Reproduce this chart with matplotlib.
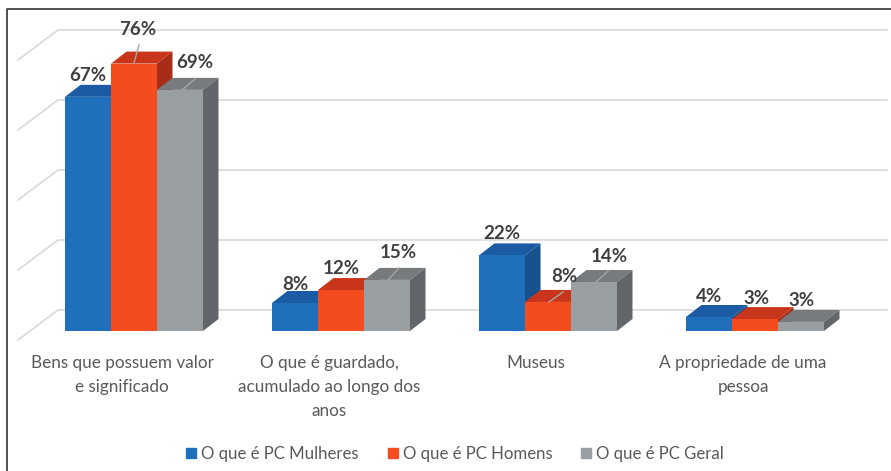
"""Grouped pseudo-3D bar chart: O que e patrimonio cultural, by gender."""

import matplotlib
matplotlib.use("Agg")
import matplotlib.pyplot as plt
from matplotlib.patches import Polygon

WIDTH, HEIGHT = 891, 471

categories = [
    "Bens que possuem valor\ne significado",
    "O que é guardado,\nacumulado ao longo dos\nanos",
    "Museus",
    "A propriedade de uma\npessoa",
]
series_names = ["O que é PC Mulheres", "O que é PC Homens", "O que é PC Geral"]
# heights, they round to the printed labels
mulheres = [66.9, 8.0, 21.6, 4.0]
homens = [76.4, 11.7, 8.3, 3.4]
geral = [68.9, 14.6, 14.0, 2.6]
grid_values = [6, 26, 46, 66, 86]

FRONT = ["#1f6fbb", "#f24c1f", "#989ea1"]
TOP = ["#1a5ba3", "#c9351b", "#777b7e"]
SIDE = ["#17528f", "#a82c18", "#62666a"]
TEXT = "#595959"
LABEL = "#404040"

# pixel centres of the value labels, per series and category
LABEL_POS = [
    [(88, 76), (295, 285), (502, 234), (709, 296)],
    [(138, 30), (341, 269), (564, 276), (756, 298)],
    [(195, 63), (398, 253), (609, 256), (801, 301)],
]
# leader lines from label to bar top, in pixels
LEADERS = [
    ((139, 45), (134, 63)),
    ((195, 79), (182, 90)),
    ((399, 268), (388, 280)),
    ((608, 271), (596, 282)),
    ((563, 292), (549, 302)),
]

# one x unit is one category, one y unit is one percent point
PX_X = 207.0
PX_Y = 3.5
BAR_W = 46.0 / PX_X
DX = 15.5 / PX_X
DY = 12.0 / PX_Y

plt.rcParams["font.family"] = ["Lato", "DejaVu Sans"]
fig = plt.figure(figsize=(WIDTH / 100, HEIGHT / 100), dpi=100)
ax = fig.add_axes([0, 0, 1, 1])
ax.set_xlim(-134 / PX_X, (WIDTH - 134) / PX_X)
ax.set_ylim(-(HEIGHT - 331) / PX_Y, 331 / PX_Y)
ax.axis("off")


def px(x, y):
    """Convert image pixels to data units."""
    return (x - 134) / PX_X, (331 - y) / PX_Y


def bar3d(x, value, idx):
    """Draw one box: front face plus top and side faces offset by the depth."""
    left, right = x, x + BAR_W
    ax.add_patch(Polygon([(left, value), (left + DX, value + DY), (right + DX, value + DY), (right, value)],
                         facecolor=TOP[idx], edgecolor="none", zorder=3 + x))
    ax.add_patch(Polygon([(right, 0), (right + DX, DY), (right + DX, value + DY), (right, value)],
                         facecolor=SIDE[idx], edgecolor="none", zorder=3 + x))
    ax.bar(x, value, width=BAR_W, align="edge", color=FRONT[idx], zorder=3.01 + x)


# gridlines: side wall diagonal, then back wall
wall_dx = 40 / PX_X
wall_dy = 30 / PX_Y
grid_left = px(58, 0)[0]
grid_right = px(887, 0)[0]
for g in grid_values:
    ax.plot([grid_left - wall_dx, grid_left, grid_right], [g - wall_dy, g, g],
            color="#dcd8d5", lw=1.2, zorder=1)

rows = [mulheres, homens, geral]
for i, row in enumerate(rows):
    for c, value in enumerate(row):
        x = c + (i - 1.5) * BAR_W
        bar3d(x, value, i)
        lx, ly = px(*LABEL_POS[i][c])
        ax.text(lx, ly, f"{value:.0f}%", ha="center", va="center",
                fontsize=13.5, fontweight="bold", color=LABEL, zorder=20)

for start, end in LEADERS:
    (x0, y0), (x1, y1) = px(*start), px(*end)
    ax.plot([x0, x1], [y0, y1], color="#a6a6a6", lw=1.0, zorder=15)

for c, label in enumerate(categories):
    ax.text(c - 12 / PX_X, px(0, 355)[1], label, ha="center", va="top", fontsize=12.3,
            color=TEXT, linespacing=1.62)

# legend
handles = [plt.Rectangle((0, 0), 1, 1, color=FRONT[i]) for i in range(3)]
fig.legend(handles, series_names, loc="center", bbox_to_anchor=(455 / WIDTH, 1 - 454 / HEIGHT), ncol=3,
           frameon=False, fontsize=12.1, labelcolor=TEXT, handlelength=0.6, handleheight=0.6,
           handletextpad=0.3, columnspacing=1.7)

# frame, open on the right and at the bottom
fx0, fy0 = px(7, HEIGHT)
fx1, fy1 = px(WIDTH, 8.5)
ax.plot([fx0, fx0, fx1], [fy0, fy1, fy1], color="#333333", lw=1.2, zorder=30)

fig.savefig("out.png", dpi=100)
